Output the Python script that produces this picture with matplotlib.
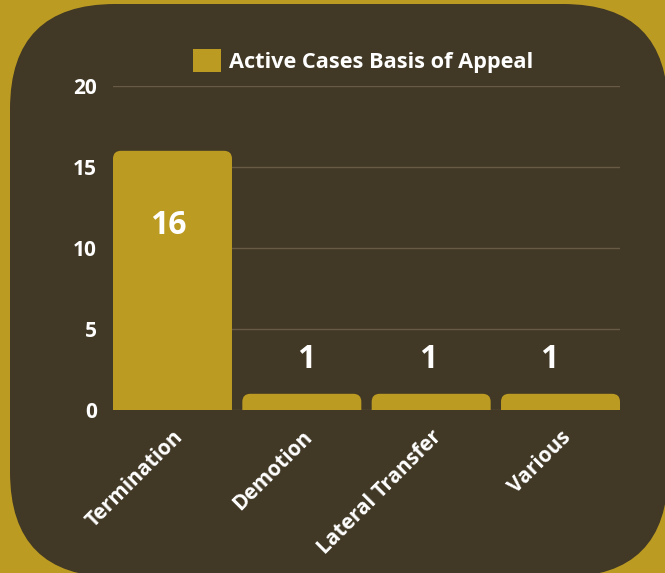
import matplotlib
matplotlib.use("Agg")
import matplotlib.pyplot as plt
from matplotlib.patches import FancyBboxPatch, Patch

categories = ["Termination", "Demotion", "Lateral Transfer", "Various"]
values = [16, 1, 1, 1]
y_ticks = [0, 5, 10, 15, 20]
series_name = "Active Cases Basis of Appeal"

GOLD = "#bc9b22"
DARK = "#413825"
GRID = "#675b45"

plt.rcParams["font.family"] = ["Open Sans", "DejaVu Sans"]
plt.rcParams["font.weight"] = "bold"

W, H = 665, 573
fig = plt.figure(figsize=(W / 100, H / 100), dpi=100)
fig.patch.set_facecolor(GOLD)

# dark rounded panel behind the chart (pixel coords -> figure fraction)
panel = FancyBboxPatch((10 / W, (H - 577) / H), 658 / W, 573 / H,
                       boxstyle="round,pad=0,rounding_size=%f" % (105 / W),
                       mutation_aspect=W / H, transform=fig.transFigure,
                       facecolor=DARK, edgecolor="none", zorder=-10)
fig.add_artist(panel)

ax = fig.add_axes([113 / W, (H - 410) / H, 507 / W, 324 / H])
ax.set_facecolor("none")
ax.set_xlim(-0.46, len(categories) - 0.54)
ax.set_ylim(0, 20)

# grid lines
for t in y_ticks:
    ax.axhline(t, color=GRID, lw=1, zorder=1)

# bars with rounded top corners
width = 0.92
r_x = 8 / 129.3
aspect = (8 / 16.2) / r_x
label_dx = [-0.03, 0.03, -0.02, -0.09]  # small nudges seen in the original
bars = ax.bar(range(len(values)), values, width=width, color="none")
for b, v, dx in zip(bars, values, label_dx):
    p = FancyBboxPatch((b.get_x(), -2), b.get_width(), v + 2,
                       boxstyle="round,pad=0,rounding_size=%f" % r_x,
                       mutation_aspect=aspect, facecolor=GOLD,
                       edgecolor="none", zorder=2, clip_on=True)
    ax.add_patch(p)
    y = v - 4.6 if v > 5 else v + 2.1
    ax.text(b.get_x() + b.get_width() / 2 + dx, y, str(v),
            ha="center", va="center", color="white", fontsize=23,
            fontweight="bold", zorder=3)

ax.set_yticks(y_ticks)
ax.set_yticklabels([str(t) for t in y_ticks])
ax.set_xticks(range(len(categories)))
ax.set_xticklabels(categories, rotation=45, ha="right", rotation_mode="anchor")
ax.tick_params(axis="y", length=0, pad=11.5, labelsize=15, labelcolor="white")
ax.tick_params(axis="x", length=0, pad=12, labelsize=15, labelcolor="white")
for lbl in ax.get_xticklabels():
    lbl.set_x(lbl.get_position()[0] + 0.16)
for s in ax.spines.values():
    s.set_visible(False)

leg = ax.legend(handles=[Patch(facecolor=GOLD, edgecolor="none", label=series_name)],
                loc="center", bbox_to_anchor=(0.5 - 3 / 507, 1 + 25 / 324),
                frameon=False, fontsize=15.7, labelcolor="white",
                handlelength=1.25, handleheight=1.25, handletextpad=0.4)

fig.savefig("out.png", dpi=100, facecolor=GOLD)
